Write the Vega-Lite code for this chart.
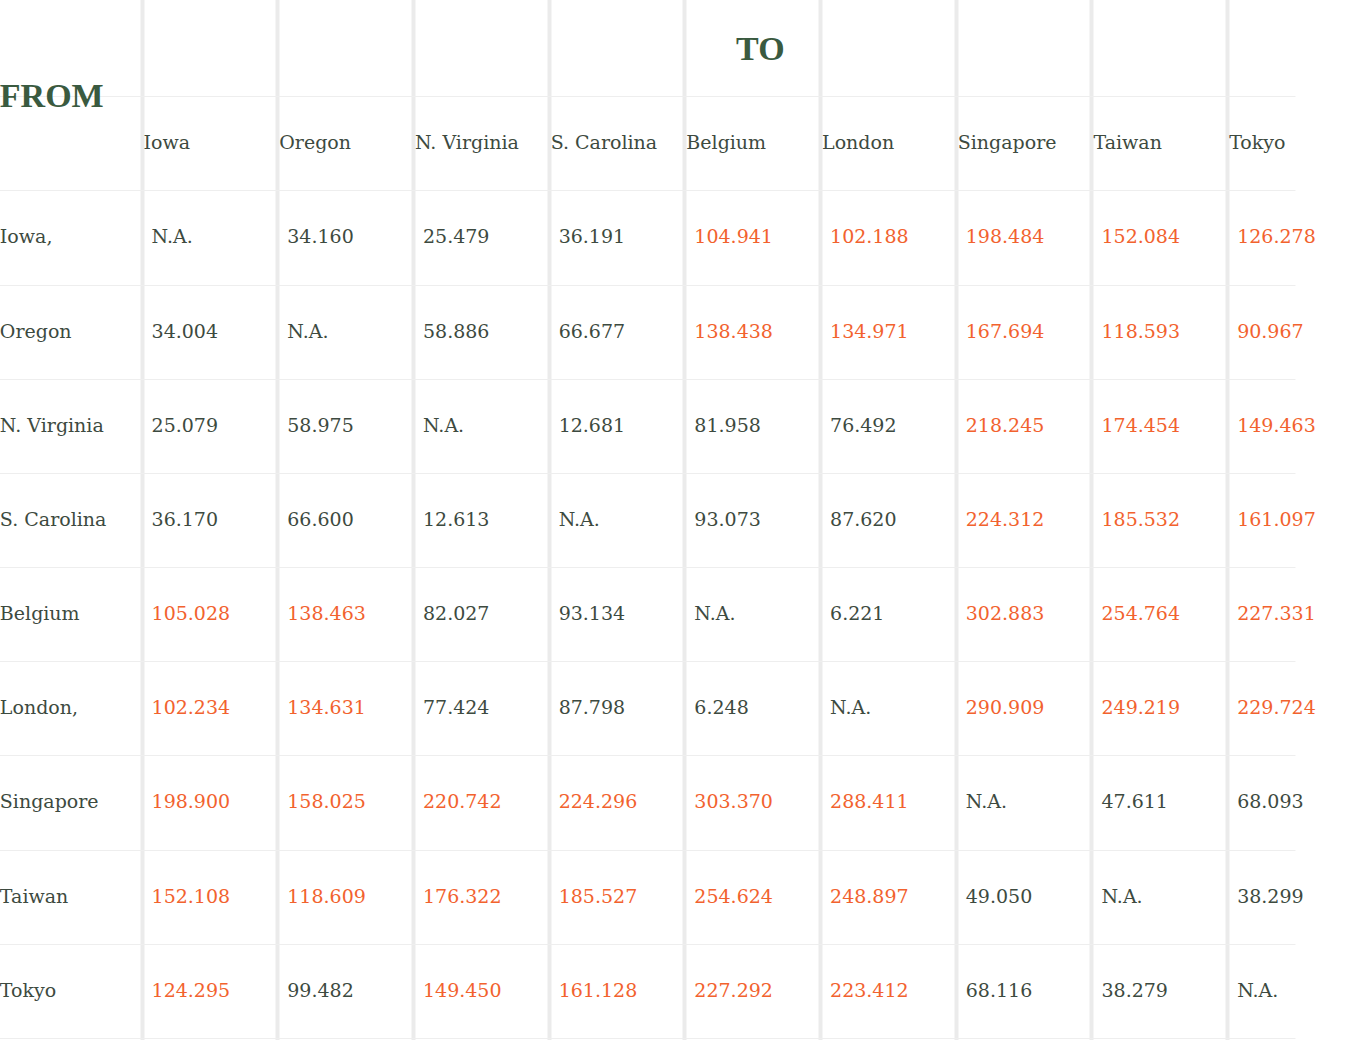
{
"$schema":"https://vega.github.io/schema/vega-lite/v6.json",
"width":1363,"height":1040,"padding":0,"autosize":"none",
"config":{"view":{"stroke":null},"text":{"font":"DejaVu Serif","fontSize":19,"color":"#3d4a40"}},
"datasets":{
"cells":[
{"from":"Iowa,","to":"Iowa","label":"N.A.","group":"n"},{"from":"Iowa,","to":"Oregon","label":"34.160","group":"n"},{"from":"Iowa,","to":"N. Virginia","label":"25.479","group":"n"},{"from":"Iowa,","to":"S. Carolina","label":"36.191","group":"n"},{"from":"Iowa,","to":"Belgium","label":"104.941","group":"h"},{"from":"Iowa,","to":"London","label":"102.188","group":"h"},{"from":"Iowa,","to":"Singapore","label":"198.484","group":"h"},{"from":"Iowa,","to":"Taiwan","label":"152.084","group":"h"},{"from":"Iowa,","to":"Tokyo","label":"126.278","group":"h"},
{"from":"Oregon","to":"Iowa","label":"34.004","group":"n"},{"from":"Oregon","to":"Oregon","label":"N.A.","group":"n"},{"from":"Oregon","to":"N. Virginia","label":"58.886","group":"n"},{"from":"Oregon","to":"S. Carolina","label":"66.677","group":"n"},{"from":"Oregon","to":"Belgium","label":"138.438","group":"h"},{"from":"Oregon","to":"London","label":"134.971","group":"h"},{"from":"Oregon","to":"Singapore","label":"167.694","group":"h"},{"from":"Oregon","to":"Taiwan","label":"118.593","group":"h"},{"from":"Oregon","to":"Tokyo","label":"90.967","group":"h"},
{"from":"N. Virginia","to":"Iowa","label":"25.079","group":"n"},{"from":"N. Virginia","to":"Oregon","label":"58.975","group":"n"},{"from":"N. Virginia","to":"N. Virginia","label":"N.A.","group":"n"},{"from":"N. Virginia","to":"S. Carolina","label":"12.681","group":"n"},{"from":"N. Virginia","to":"Belgium","label":"81.958","group":"n"},{"from":"N. Virginia","to":"London","label":"76.492","group":"n"},{"from":"N. Virginia","to":"Singapore","label":"218.245","group":"h"},{"from":"N. Virginia","to":"Taiwan","label":"174.454","group":"h"},{"from":"N. Virginia","to":"Tokyo","label":"149.463","group":"h"},
{"from":"S. Carolina","to":"Iowa","label":"36.170","group":"n"},{"from":"S. Carolina","to":"Oregon","label":"66.600","group":"n"},{"from":"S. Carolina","to":"N. Virginia","label":"12.613","group":"n"},{"from":"S. Carolina","to":"S. Carolina","label":"N.A.","group":"n"},{"from":"S. Carolina","to":"Belgium","label":"93.073","group":"n"},{"from":"S. Carolina","to":"London","label":"87.620","group":"n"},{"from":"S. Carolina","to":"Singapore","label":"224.312","group":"h"},{"from":"S. Carolina","to":"Taiwan","label":"185.532","group":"h"},{"from":"S. Carolina","to":"Tokyo","label":"161.097","group":"h"},
{"from":"Belgium","to":"Iowa","label":"105.028","group":"h"},{"from":"Belgium","to":"Oregon","label":"138.463","group":"h"},{"from":"Belgium","to":"N. Virginia","label":"82.027","group":"n"},{"from":"Belgium","to":"S. Carolina","label":"93.134","group":"n"},{"from":"Belgium","to":"Belgium","label":"N.A.","group":"n"},{"from":"Belgium","to":"London","label":"6.221","group":"n"},{"from":"Belgium","to":"Singapore","label":"302.883","group":"h"},{"from":"Belgium","to":"Taiwan","label":"254.764","group":"h"},{"from":"Belgium","to":"Tokyo","label":"227.331","group":"h"},
{"from":"London,","to":"Iowa","label":"102.234","group":"h"},{"from":"London,","to":"Oregon","label":"134.631","group":"h"},{"from":"London,","to":"N. Virginia","label":"77.424","group":"n"},{"from":"London,","to":"S. Carolina","label":"87.798","group":"n"},{"from":"London,","to":"Belgium","label":"6.248","group":"n"},{"from":"London,","to":"London","label":"N.A.","group":"n"},{"from":"London,","to":"Singapore","label":"290.909","group":"h"},{"from":"London,","to":"Taiwan","label":"249.219","group":"h"},{"from":"London,","to":"Tokyo","label":"229.724","group":"h"},
{"from":"Singapore","to":"Iowa","label":"198.900","group":"h"},{"from":"Singapore","to":"Oregon","label":"158.025","group":"h"},{"from":"Singapore","to":"N. Virginia","label":"220.742","group":"h"},{"from":"Singapore","to":"S. Carolina","label":"224.296","group":"h"},{"from":"Singapore","to":"Belgium","label":"303.370","group":"h"},{"from":"Singapore","to":"London","label":"288.411","group":"h"},{"from":"Singapore","to":"Singapore","label":"N.A.","group":"n"},{"from":"Singapore","to":"Taiwan","label":"47.611","group":"n"},{"from":"Singapore","to":"Tokyo","label":"68.093","group":"n"},
{"from":"Taiwan","to":"Iowa","label":"152.108","group":"h"},{"from":"Taiwan","to":"Oregon","label":"118.609","group":"h"},{"from":"Taiwan","to":"N. Virginia","label":"176.322","group":"h"},{"from":"Taiwan","to":"S. Carolina","label":"185.527","group":"h"},{"from":"Taiwan","to":"Belgium","label":"254.624","group":"h"},{"from":"Taiwan","to":"London","label":"248.897","group":"h"},{"from":"Taiwan","to":"Singapore","label":"49.050","group":"n"},{"from":"Taiwan","to":"Taiwan","label":"N.A.","group":"n"},{"from":"Taiwan","to":"Tokyo","label":"38.299","group":"n"},
{"from":"Tokyo","to":"Iowa","label":"124.295","group":"h"},{"from":"Tokyo","to":"Oregon","label":"99.482","group":"n"},{"from":"Tokyo","to":"N. Virginia","label":"149.450","group":"h"},{"from":"Tokyo","to":"S. Carolina","label":"161.128","group":"h"},{"from":"Tokyo","to":"Belgium","label":"227.292","group":"h"},{"from":"Tokyo","to":"London","label":"223.412","group":"h"},{"from":"Tokyo","to":"Singapore","label":"68.116","group":"n"},{"from":"Tokyo","to":"Taiwan","label":"38.279","group":"n"},{"from":"Tokyo","to":"Tokyo","label":"N.A.","group":"n"}
],
"cols":[{"to":"Iowa"},{"to":"Oregon"},{"to":"N. Virginia"},{"to":"S. Carolina"},{"to":"Belgium"},{"to":"London"},{"to":"Singapore"},{"to":"Taiwan"},{"to":"Tokyo"}],
"rows":[{"from":"Iowa,"},{"from":"Oregon"},{"from":"N. Virginia"},{"from":"S. Carolina"},{"from":"Belgium"},{"from":"London,"},{"from":"Singapore"},{"from":"Taiwan"},{"from":"Tokyo"}],
"titles":[{"t":"TO","col":"Belgium","row":"top"},{"t":"FROM","col":"FROM","row":"hdr"}]
},
"layer":[
{"data":{"name":"cells"},"mark":{"type":"text","align":"left","dx":10,"dy":47},
 "encoding":{
  "x":{"field":"to","type":"nominal",
   "scale":{"domain":["FROM","Iowa","Oregon","N. Virginia","S. Carolina","Belgium","London","Singapore","Taiwan","Tokyo"],"range":[-62,1295],"paddingInner":0,"paddingOuter":0},
   "axis":{"orient":"top","labels":false,"ticks":false,"domain":false,"title":null,"grid":true,"gridColor":"#ebebeb","gridWidth":4,
     "gridOpacity":{"condition":{"test":"datum.value==='FROM'","value":0},"value":1}}},
  "y":{"field":"from","type":"nominal",
   "scale":{"domain":["top","hdr","Iowa,","Oregon","N. Virginia","S. Carolina","Belgium","London,","Singapore","Taiwan","Tokyo","end"],"range":[-45,1085],"paddingInner":0,"paddingOuter":0},
   "axis":{"labels":false,"ticks":false,"domain":false,"title":null,"grid":true,"gridColor":"#eeeeee","gridWidth":1,
     "gridOpacity":{"condition":{"test":"datum.value==='top'","value":0},"value":1}}},
  "text":{"field":"label"},
  "color":{"field":"group","type":"nominal","scale":{"domain":["n","h"],"range":["#3d4a40","#f2622e"]},"legend":null}
 }},
{"data":{"name":"cols"},"mark":{"type":"text","align":"left","dx":2,"dy":-47},
 "encoding":{"x":{"field":"to","type":"nominal"},"y":{"datum":"Iowa,"},"text":{"field":"to"}}},
{"data":{"name":"rows"},"mark":{"type":"text","align":"left","dx":-6,"dy":47},
 "encoding":{"x":{"datum":"FROM"},"y":{"field":"from","type":"nominal"},"text":{"field":"from"}}},
{"data":{"name":"titles"},"transform":[{"filter":"datum.t==='TO'"}],"mark":{"type":"text","align":"center","fontSize":34,"fontWeight":"bold","color":"#3a5a40","font":"Liberation Serif","dx":76,"dy":48},
 "encoding":{"x":{"field":"col","type":"nominal"},"y":{"field":"row","type":"nominal"},"text":{"field":"t"}}},
{"data":{"name":"titles"},"transform":[{"filter":"datum.t==='FROM'"}],"mark":{"type":"text","align":"left","fontSize":34,"fontWeight":"bold","color":"#3a5a40","font":"Liberation Serif","dx":-6,"dy":1},
 "encoding":{"x":{"field":"col","type":"nominal"},"y":{"field":"row","type":"nominal"},"text":{"field":"t"}}}
]
}
